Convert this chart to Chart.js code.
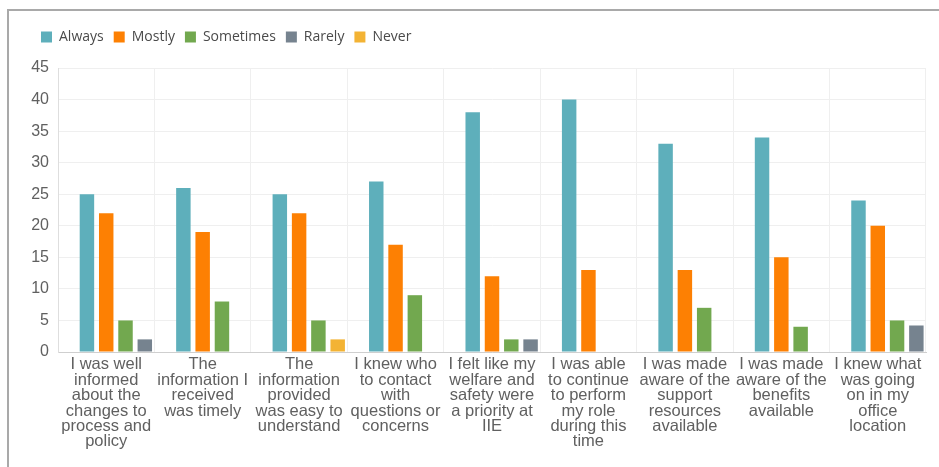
<!DOCTYPE html>
<html>
<head>
<meta charset="utf-8">
<script src="https://cdn.jsdelivr.net/npm/chart.js@4/dist/chart.umd.min.js"></script>
<style>
  html, body { margin: 0; padding: 0; background: #fff; }
  #wrap { position: relative; width: 939px; height: 467px; overflow: hidden; }
  #frame { position: absolute; left: 7px; top: 9px; width: 960px; height: 480px;
           border-left: 2px solid #a9a9a9; border-top: 2px solid #a9a9a9; }
  #meuGrafico { position: absolute; left: 0; top: 0; }
</style>
</head>
<body>
<div id="wrap">
  <div id="frame"></div>
  <canvas id="meuGrafico" width="939" height="467"></canvas>
</div>
<script>
const canvas = document.getElementById('meuGrafico');
const ctx = canvas.getContext('2d');

const labels = [
  ["I was well", "informed", "about the", "changes to", "process and", "policy"],
  ["The", "information I", "received", "was timely"],
  ["The", "information", "provided", "was easy to", "understand"],
  ["I knew who", "to contact", "with", "questions or", "concerns"],
  ["I felt like my", "welfare and", "safety were", "a priority at", "IIE"],
  ["I was able", "to continue", "to perform", "my role", "during this", "time"],
  ["I was made", "aware of the", "support", "resources", "available"],
  ["I was made", "aware of the", "benefits", "available"],
  ["I knew what", "was going", "on in my", "office", "location"]
];

const always    = [25, 26, 25, 27, 38, 40, 33, 34, 24];
const mostly    = [22, 19, 22, 17, 12, 13, 13, 15, 20];
const sometimes = [5, 8, 5, 9, 2, 0, 7, 4, 5];
const rarely    = [2, 0, 0, 0, 2, 0, 0, 0, 4.2];
const never     = [0, 0, 2, 0, 0, 0, 0, 0, 0];

const yTicks = [0, 5, 10, 15, 20, 25, 30, 35, 40, 45];

const colors = ["#5eafbb", "#fd8003", "#72a84f", "#76838f", "#f3b334"];

// empty leading slot: the groups in the picture sit to the right of each category
const spacer = { label: '', data: [], stack: 's', backgroundColor: 'rgba(0,0,0,0)' };

// extra room under the legend
const legendGap = {
  id: 'legendGap',
  beforeInit(chart) {
    const fit = chart.legend.fit;
    chart.legend.fit = function () {
      fit.bind(chart.legend)();
      this.height += 14;
    };
  }
};

const tickFont = { family: "'Liberation Sans', Arial, sans-serif", size: 16 };

const chart = new Chart(ctx, {
  type: 'bar',
  data: {
    labels,
    datasets: [
      spacer,
      { label: 'Always', data: always, stack: 'a', backgroundColor: colors[0] },
      { label: 'Mostly', data: mostly, stack: 'b', backgroundColor: colors[1] },
      { label: 'Sometimes', data: sometimes, stack: 'c', backgroundColor: colors[2] },
      { label: 'Rarely', data: rarely, stack: 'd', backgroundColor: colors[3] },
      { label: 'Never', data: never, stack: 'd', backgroundColor: colors[4] }
    ]
  },
  options: {
    responsive: false,
    animation: false,
    categoryPercentage: 1,
    barPercentage: 0.75,
    layout: { padding: { left: 31, right: 13, top: 20, bottom: 0 } },
    plugins: {
      tooltip: { enabled: false },
      legend: {
        position: 'top',
        align: 'start',
        labels: {
          boxWidth: 11,
          boxHeight: 11,
          padding: 10,
          color: '#4a4a4a',
          font: { family: "'Open Sans', sans-serif", size: 14 },
          filter: (item) => item.text !== ''
        }
      }
    },
    scales: {
      x: {
        stacked: true,
        grid: { color: '#efefef', drawTicks: false, offset: true },
        border: { color: '#cfcfcf' },
        ticks: {
          autoSkip: false,
          maxRotation: 0,
          minRotation: 0,
          padding: 5,
          color: '#606060',
          font: { ...tickFont, size: 16.5, lineHeight: 0.935 }
        },
        afterFit(scale) { scale.height = 115; }
      },
      y: {
        stacked: true,
        min: 0,
        max: 45,
        afterBuildTicks(scale) { scale.ticks = yTicks.map(v => ({ value: v })); },
        grid: { color: '#efefef', drawTicks: false },
        border: { color: '#dedede' },
        ticks: { padding: 9, color: '#606060', font: tickFont },
        afterFit(scale) { scale.width = 27; }
      }
    }
  },
  plugins: [legendGap]
});
</script>
</body>
</html>
